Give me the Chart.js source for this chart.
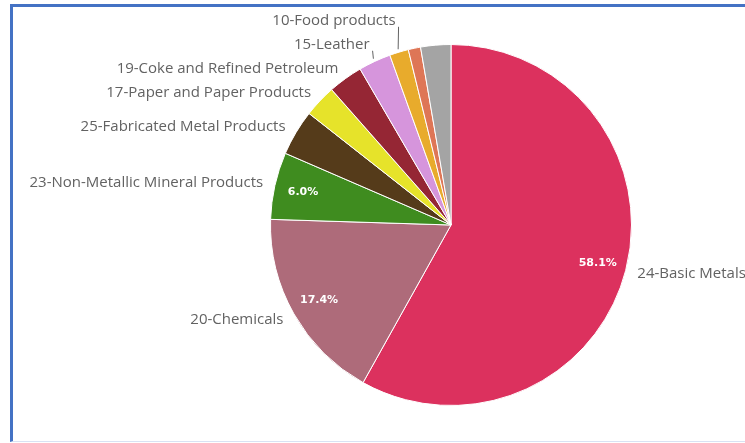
<!DOCTYPE html>
<html>
<head>
<meta charset="utf-8">
<script src="https://cdn.jsdelivr.net/npm/chart.js@4.4.0/dist/chart.umd.min.js"></script>
<style>
  body { margin: 0; background: #fff; }
  #wrap { position: relative; width: 745px; height: 443px; }
  #frame {
    position: absolute; left: 10px; top: 4px; right: 0; bottom: 1px;
    border-top: 3px solid #4472c4; border-left: 3px solid #4472c4;
    border-bottom: 1px solid #d9e2f3; pointer-events: none;
  }
</style>
</head>
<body>
<div id="wrap">
  <canvas id="sectorChart" width="745" height="443"></canvas>
  <div id="frame"></div>
</div>
<script>
// sector shares (%), clockwise from 12 o'clock
const sectors = ["24-Basic Metals", "20-Chemicals", "23-Non-Metallic Mineral Products",
  "25-Fabricated Metal Products", "17-Paper and Paper Products", "19-Coke and Refined Petroleum",
  "15-Leather", "10-Food products", "", ""];
const shares = [58.1, 17.4, 6.0, 4.1, 2.9, 3.1, 2.9, 1.7, 1.1, 2.7];
const sliceColors = ["#dc315e", "#ae6b7a", "#3f8c1f", "#553b1a", "#e6e32a",
  "#952634", "#d695dc", "#e8ab2c", "#de7656", "#a4a4a4"];

const labelFont = '15px "Open Sans"';
const pctFont = 'bold 11px "DejaVu Sans"';

// outside labels with leader lines, plus % values inside the big slices
const sliceLabels = {
  id: "sliceLabels",
  afterDatasetsDraw(chart) {
    const ctx = chart.ctx;
    const arcs = chart.getDatasetMeta(0).data;
    const items = [];
    arcs.forEach((arc, i) => {
      const p = arc.getProps(["x", "y", "startAngle", "endAngle", "outerRadius"], true);
      const mid = (p.startAngle + p.endAngle) / 2;
      const cx = Math.cos(mid), cy = Math.sin(mid);
      // value inside the slice
      if (shares[i] >= 5) {
        ctx.save();
        ctx.font = pctFont;
        ctx.fillStyle = "#fff";
        ctx.textAlign = "center";
        ctx.textBaseline = "middle";
        ctx.fillText(shares[i].toFixed(1) + "%", p.x + cx * p.outerRadius * 0.84, p.y + cy * p.outerRadius * 0.84);
        ctx.restore();
      }
      if (!sectors[i]) return;
      const r = p.outerRadius + 12;
      const y = p.y + cy * r;
      items.push({ i, cx, cy, p, x: p.x + cx * r, y, y0: y });
    });

    // push upper-left labels apart so they don't overlap
    const left = items.filter(o => o.cx < 0).sort((a, b) => b.y - a.y);
    for (let k = 1; k < left.length; k++) {
      left[k].y = Math.min(left[k].y, left[k - 1].y - 24);
    }

    ctx.save();
    ctx.font = labelFont;
    ctx.fillStyle = "#626262";
    ctx.strokeStyle = "#626262";
    ctx.lineWidth = 1;
    ctx.textBaseline = "middle";
    items.forEach(o => {
      const onLeft = o.cx < 0;
      ctx.textAlign = onLeft ? "right" : "left";
      ctx.fillText(sectors[o.i], o.x, o.y);
      if (o.y0 - o.y > 3) {
        const r = o.p.outerRadius + 3;
        ctx.beginPath();
        ctx.moveTo(o.p.x + o.cx * r, o.p.y + o.cy * r);
        ctx.lineTo(o.x + 3, o.y + 6);
        ctx.stroke();
      }
    });
    ctx.restore();
  }
};

new Chart("sectorChart", {
  type: "pie",
  data: {
    labels: sectors,
    datasets: [{
      data: shares,
      backgroundColor: sliceColors,
      borderColor: "#ffffff",
      borderWidth: 1
    }]
  },
  options: {
    responsive: false,
    animation: false,
    layout: { padding: { left: 270, right: 113, top: 44, bottom: 37 } },
    plugins: {
      legend: { display: false },
      tooltip: { enabled: false }
    }
  },
  plugins: [sliceLabels]
});
</script>
</body>
</html>
